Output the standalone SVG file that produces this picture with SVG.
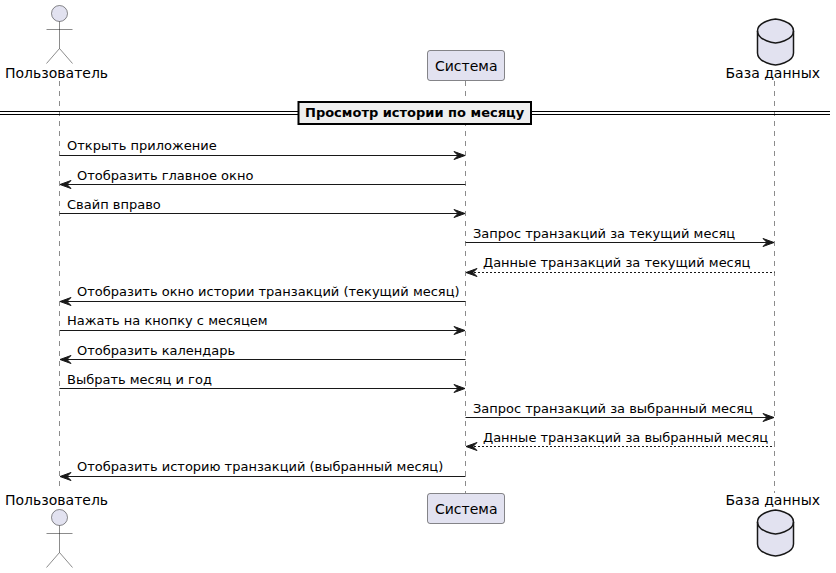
<svg xmlns="http://www.w3.org/2000/svg" width="836" height="573" viewBox="0 0 836 573">
<style>
text{font-family:"DejaVu Sans",sans-serif;fill:#000}
.m{font-size:13px}
.p{font-size:14px}
.life{stroke:#181818;stroke-width:.5;stroke-dasharray:5 5;fill:none}
.a{stroke:#181818;stroke-width:1;fill:none}
.d{stroke:#181818;stroke-width:1;stroke-dasharray:2 2;fill:none}
.head{fill:#181818;stroke:#181818}
.actor{fill:#E2E2F0;stroke:#181818;stroke-width:.5}
.part{fill:#E2E2F0;stroke:#181818;stroke-width:.5}
.db{fill:#E2E2F0;stroke:#181818;stroke-width:1.5}
.dl{stroke:#000;stroke-width:1;fill:none}
</style>
<defs>
<path id="ar" class="head" d="M0 0L-11 -4L-7 0L-11 4Z"/>
<path id="al" class="head" d="M0 0L11 -4L7 0L11 4Z"/>
</defs>
<g id="lifelines">
<path class="life" d="M59.5 81V487"/>
<path class="life" d="M465.5 81V493"/>
<path class="life" d="M774.5 81V493"/>
</g>
<g id="user-top"><circle class="actor" cx="59.5" cy="13.5" r="8"/><path class="actor" style="fill:none" d="M59.5 21.5V48.5M46.5 29.5H72.5M59.5 48.5L46.5 63.5M59.5 48.5L72.5 63.5"/><text class="p" x="5" y="78">Пользователь</text></g>
<g id="system-top"><rect class="part" x="427.5" y="50.5" width="77" height="30" rx="2.5"/><text class="p" x="435" y="70.5">Система</text></g>
<g id="db-top"><path class="db" d="M757.5 31C757.5 21 775.5 19 775.5 19C775.5 19 793.5 21 793.5 31V53C793.5 63 775.5 65 775.5 65C775.5 65 757.5 63 757.5 53Z"/><path class="db" style="fill:none" d="M757.5 31C757.5 41 775.5 43 775.5 43C775.5 43 793.5 41 793.5 31"/><text class="p" x="725.5" y="78">База данных</text></g>
<g id="divider">
<path class="dl" d="M0 111.5H830M0 114.5H830"/>
<rect x="298.5" y="102" width="232.5" height="22" fill="#EEEEEE" stroke="#000" stroke-width="2"/>
<text x="305" y="117" font-size="13" font-weight="700">Просмотр истории по месяцу</text>
</g>
<g id="connectors">
<path class="a" d="M59.5 155.5H465"/><use href="#ar" x="465" y="155.5"/>
<path class="a" d="M60 184.5H465.5"/><use href="#al" x="60" y="184.5"/>
<path class="a" d="M59.5 213.5H465"/><use href="#ar" x="465" y="213.5"/>
<path class="a" d="M465.5 242.5H774"/><use href="#ar" x="774" y="242.5"/>
<path class="d" d="M466 272.5H774.5"/><use href="#al" x="466" y="272.5"/>
<path class="a" d="M60 301.5H465.5"/><use href="#al" x="60" y="301.5"/>
<path class="a" d="M59.5 330.5H465"/><use href="#ar" x="465" y="330.5"/>
<path class="a" d="M60 359.5H465.5"/><use href="#al" x="60" y="359.5"/>
<path class="a" d="M59.5 388.5H465"/><use href="#ar" x="465" y="388.5"/>
<path class="a" d="M465.5 417.5H774"/><use href="#ar" x="774" y="417.5"/>
<path class="d" d="M466 446.5H774.5"/><use href="#al" x="466" y="446.5"/>
<path class="a" d="M60 476.5H465.5"/><use href="#al" x="60" y="476.5"/>
</g>
<g id="labels">
<text class="m" x="67" y="150">Открыть приложение</text>
<text class="m" x="77" y="180">Отобразить главное окно</text>
<text class="m" x="67" y="209">Свайп вправо</text>
<text class="m" x="473" y="238">Запрос транзакций за текущий месяц</text>
<text class="m" x="483" y="267">Данные транзакций за текущий месяц</text>
<text class="m" x="77" y="296">Отобразить окно истории транзакций (текущий месяц)</text>
<text class="m" x="67" y="325">Нажать на кнопку с месяцем</text>
<text class="m" x="77" y="355">Отобразить календарь</text>
<text class="m" x="67" y="384">Выбрать месяц и год</text>
<text class="m" x="473" y="413">Запрос транзакций за выбранный месяц</text>
<text class="m" x="483" y="442">Данные транзакций за выбранный месяц</text>
<text class="m" x="77" y="471">Отобразить историю транзакций (выбранный месяц)</text>
</g>
<g id="user-bottom"><text class="p" x="5" y="505">Пользователь</text><circle class="actor" cx="59.5" cy="517.5" r="8"/><path class="actor" style="fill:none" d="M59.5 525.5V552.5M46.5 533.5H72.5M59.5 552.5L46.5 567.5M59.5 552.5L72.5 567.5"/></g>
<g id="system-bottom"><rect class="part" x="427.5" y="493.5" width="77" height="30" rx="2.5"/><text class="p" x="435" y="513.5">Система</text></g>
<g id="db-bottom"><text class="p" x="725.5" y="505">База данных</text><path class="db" d="M757.5 522C757.5 512 775.5 510 775.5 510C775.5 510 793.5 512 793.5 522V544C793.5 554 775.5 556 775.5 556C775.5 556 757.5 554 757.5 544Z"/><path class="db" style="fill:none" d="M757.5 522C757.5 532 775.5 534 775.5 534C775.5 534 793.5 532 793.5 522"/></g>
</svg>
